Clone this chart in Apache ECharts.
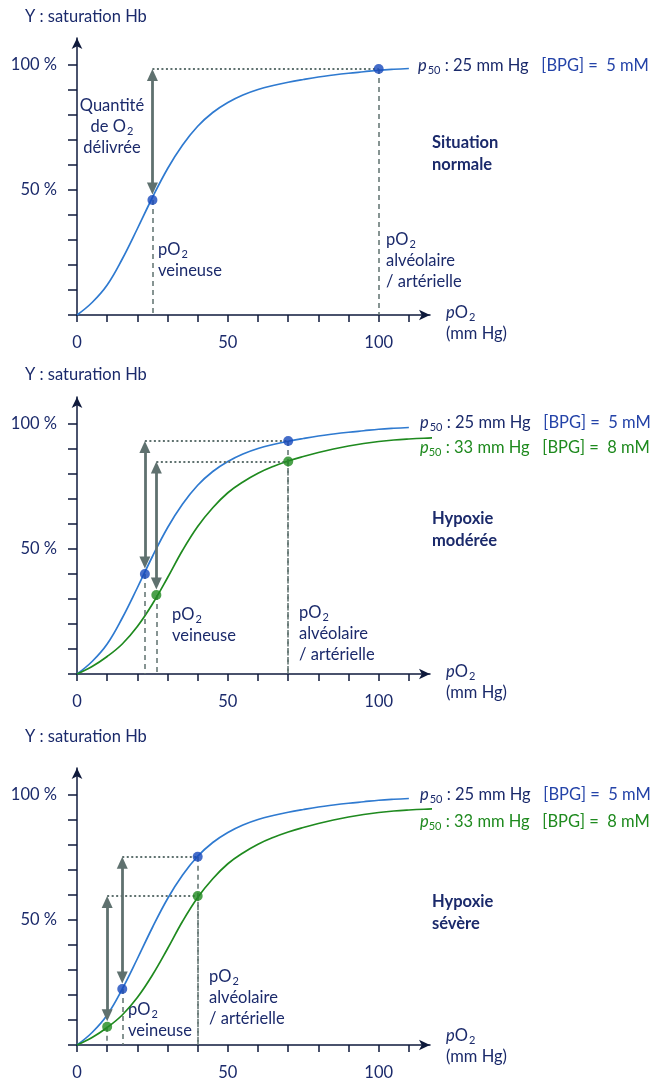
<!DOCTYPE html>
<html>
<head>
<meta charset="utf-8">
<script src="https://cdn.jsdelivr.net/npm/echarts@6/dist/echarts.min.js"></script>
<style>
html, body { margin: 0; padding: 0; background: #fff; }
#chart { width: 658px; height: 1082px; }
</style>
</head>
<body>
<div id="chart"></div>
<script>
// courbes de saturation (pO2 en mm Hg, saturation en %)
const po2Blue = [0, 5, 10, 15, 20, 25, 30, 35, 40, 45, 50, 55, 60, 65, 70, 75, 80, 85, 90, 95, 100, 105, 110];
const satBlue = [0, 5, 12, 22.4, 34.5, 47, 58.5, 68, 75.5, 81, 85, 88, 90.2, 91.8, 93.1, 94.2, 95.2, 96, 96.7, 97.3, 97.9, 98.3, 98.6];
const po2Green = [0, 5, 10, 15, 20, 25, 30, 35, 40, 45, 50, 55, 60, 65, 70, 75, 80, 85, 90, 95, 100, 105, 110, 115, 120];
const satGreen = [0, 3, 7, 12, 19, 28, 38.5, 49.5, 59, 66.5, 72.5, 76.8, 80.3, 83, 85.2, 87, 88.6, 90, 91.2, 92.2, 93, 93.6, 94, 94.3, 94.5];

// graduations
const xTickValues = [0, 10, 20, 30, 40, 50, 60, 70, 80, 90, 100, 110];
const xLabelValues = [0, 50, 100];
const yTickValues = [0, 10, 20, 30, 40, 50, 60, 70, 80, 90, 100];
const yLabelValues = [50, 100];

// points par situation : [pO2, saturation]
const blueVenous = [[25, 46], [22.5, 40], [15, 22.4]];
const blueArterial = [[100, 98.4], [70, 93.2], [40, 75.3]];
const greenVenous = [null, [26.3, 31.6], [10, 7.3]];
const greenArterial = [null, [70, 85], [40, 59.6]];
const panelTitles = [["Situation", "normale"], ["Hypoxie", "modérée"], ["Hypoxie", "sévère"]];

const FONT = 'Lato, "Open Sans", sans-serif';
const NAVY = '#1b2a6b';
const BLUE_TXT = '#2443a8';
const GREEN = '#1f8a1f';
const BLUE_LINE = '#2f7ad0';
const BLUE_DOT = '#1748bb';
const GREY = '#5f716f';
const AXIS = '#0f1a3c';
const FS = 16.5;

const gridTops = [38, 397, 768];
const chart = echarts.init(document.getElementById('chart'));

const grids = gridTops.map(t => ({ left: 77, top: t, width: 353, height: 277 }));
const xAxes = gridTops.map((t, i) => ({
  gridIndex: i, type: 'value', min: 0, max: 117,
  axisLine: { show: true, symbol: ['none', 'arrow'], symbolSize: [8, 11], lineStyle: { color: AXIS, width: 1.5 } },
  axisTick: { show: true, customValues: xTickValues, length: 7, lineStyle: { color: AXIS, width: 1.5 } },
  axisLabel: { customValues: xLabelValues, margin: 19, color: NAVY, fontSize: FS, fontFamily: FONT },
  splitLine: { show: false }
}));
const yAxes = gridTops.map((t, i) => ({
  gridIndex: i, type: 'value', min: 0, max: 110.8,
  axisLine: { show: true, symbol: ['none', 'arrow'], symbolSize: [8, 11], lineStyle: { color: AXIS, width: 1.5 } },
  axisTick: { show: true, customValues: yTickValues, length: 9, lineStyle: { color: AXIS, width: 1.5 } },
  axisLabel: { customValues: yLabelValues, margin: 20, color: NAVY, fontSize: FS, fontFamily: FONT, formatter: v => v + ' %' },
  splitLine: { show: false }
}));

const series = [];
for (let i = 0; i < 3; i++) {
  const pairs = [[blueVenous[i], blueArterial[i], BLUE_DOT]];
  if (greenVenous[i]) pairs.push([greenVenous[i], greenArterial[i], GREEN]);

  series.push({
    type: 'line', xAxisIndex: i, yAxisIndex: i, smooth: 0.4, showSymbol: false, silent: true, z: 3,
    data: po2Blue.map((x, k) => [x, satBlue[k]]),
    lineStyle: { color: BLUE_LINE, width: 1.7 }
  });
  if (greenVenous[i]) {
    series.push({
      type: 'line', xAxisIndex: i, yAxisIndex: i, smooth: 0.4, showSymbol: false, silent: true, z: 3, clip: false,
      data: po2Green.map((x, k) => [x, satGreen[k]]),
      lineStyle: { color: GREEN, width: 1.7 }
    });
  }

  // tirets, pointillés et flèches
  const dashed = [];
  const dotted = [];
  const arrows = [];
  pairs.forEach(([v, a]) => {
    dashed.push([{ coord: [v[0], v[1]] }, { coord: [v[0], 0] }]);
    dashed.push([{ coord: [a[0], a[1]] }, { coord: [a[0], 0] }]);
    dotted.push([{ coord: [v[0], a[1]] }, { coord: [a[0], a[1]] }]);
    arrows.push([{ coord: [v[0], v[1] + 4.6] }, { coord: [v[0], a[1] - 2.4] }]);
  });

  series.push({
    type: 'scatter', xAxisIndex: i, yAxisIndex: i, silent: true, data: [],
    markLine: { silent: true, animation: false, symbol: 'none', label: { show: false },
      lineStyle: { color: GREY, width: 1.5, type: [5, 4] }, data: dashed }
  });
  series.push({
    type: 'scatter', xAxisIndex: i, yAxisIndex: i, silent: true, data: [],
    markLine: { silent: true, animation: false, symbol: 'none', label: { show: false },
      lineStyle: { color: GREY, width: 2, type: [2, 2.5] }, data: dotted }
  });
  series.push({
    type: 'scatter', xAxisIndex: i, yAxisIndex: i, silent: true, data: [],
    markLine: { silent: true, animation: false, symbol: ['triangle', 'triangle'], symbolSize: [11, 12], label: { show: false },
      lineStyle: { color: GREY, width: 2.8, type: 'solid' }, data: arrows }
  });
  series.push({
    type: 'scatter', xAxisIndex: i, yAxisIndex: i, silent: true, symbolSize: 10, z: 5,
    data: pairs.flatMap(([v, a, c]) => [
      { value: v, itemStyle: { color: c } },
      { value: a, itemStyle: { color: c } }
    ])
  });
}

// textes
const rich = {
  n: { fontSize: FS, fontFamily: FONT, fill: NAVY, lineHeight: 21 },
  s: { fontSize: 11, fontFamily: FONT, fill: NAVY, verticalAlign: 'bottom', lineHeight: 21, padding: [0, 0, 0, 1] },
  b: { fontSize: FS, fontFamily: FONT, fill: NAVY, fontWeight: 'bold', lineHeight: 22 },
  pi: { fontSize: FS, fontFamily: FONT, fill: NAVY, fontStyle: 'italic', lineHeight: 21 },
  bt: { fontSize: FS, fontFamily: FONT, fill: BLUE_TXT, lineHeight: 21 },
  gi: { fontSize: FS, fontFamily: FONT, fill: GREEN, fontStyle: 'italic', lineHeight: 21 },
  gs: { fontSize: 11, fontFamily: FONT, fill: GREEN, verticalAlign: 'bottom', lineHeight: 21 },
  g: { fontSize: FS, fontFamily: FONT, fill: GREEN, lineHeight: 21 }
};
function txt(x, y, text, align) {
  return { type: 'text', x: x, y: y, silent: true,
    style: { text: text, rich: rich, fill: NAVY, align: align || 'left', verticalAlign: 'top' } };
}
const PO2 = '{n|pO}{s|2}';
const P50B = '{pi|p}{s|50}{n| : 25 mm Hg   }{bt|[BPG] =  5 mM}';
const P50G = '{gi|p}{gs|50}{g| : 33 mm Hg   [BPG] =  8 mM}';

const graphic = [
  // situation normale
  txt(25, 6, '{n|Y : saturation Hb}'),
  txt(112, 95, '{n|Quantité}\n{n|de O}{s|2}\n{n|délivrée}', 'center'),
  txt(158, 239, PO2 + '\n{n|veineuse}'),
  txt(386, 229, PO2 + '\n{n|alvéolaire}\n{n|/ artérielle}'),
  txt(432, 132, '{b|' + panelTitles[0][0] + '}\n{b|' + panelTitles[0][1] + '}'),
  txt(446, 302, '{pi|p}{n|O}{s|2}\n{n|(mm Hg)}'),
  txt(418, 55, P50B),
  // hypoxie modérée
  txt(25, 364, '{n|Y : saturation Hb}'),
  txt(172, 604, PO2 + '\n{n|veineuse}'),
  txt(299, 602, PO2 + '\n{n|alvéolaire}\n{n|/ artérielle}'),
  txt(432, 508, '{b|' + panelTitles[1][0] + '}\n{b|' + panelTitles[1][1] + '}'),
  txt(446, 661, '{pi|p}{n|O}{s|2}\n{n|(mm Hg)}'),
  txt(420, 412, P50B),
  txt(420, 437, P50G),
  // hypoxie sévère
  txt(25, 726, '{n|Y : saturation Hb}'),
  txt(128, 999, PO2 + '\n{n|veineuse}'),
  txt(209, 966, PO2 + '\n{n|alvéolaire}\n{n|/ artérielle}'),
  txt(432, 891, '{b|' + panelTitles[2][0] + '}\n{b|' + panelTitles[2][1] + '}'),
  txt(446, 1025, '{pi|p}{n|O}{s|2}\n{n|(mm Hg)}'),
  txt(420, 784, P50B),
  txt(420, 811, P50G)
];

chart.setOption({
  animation: false,
  backgroundColor: '#fff',
  grid: grids,
  xAxis: xAxes,
  yAxis: yAxes,
  series: series,
  graphic: graphic
});
</script>
</body>
</html>
